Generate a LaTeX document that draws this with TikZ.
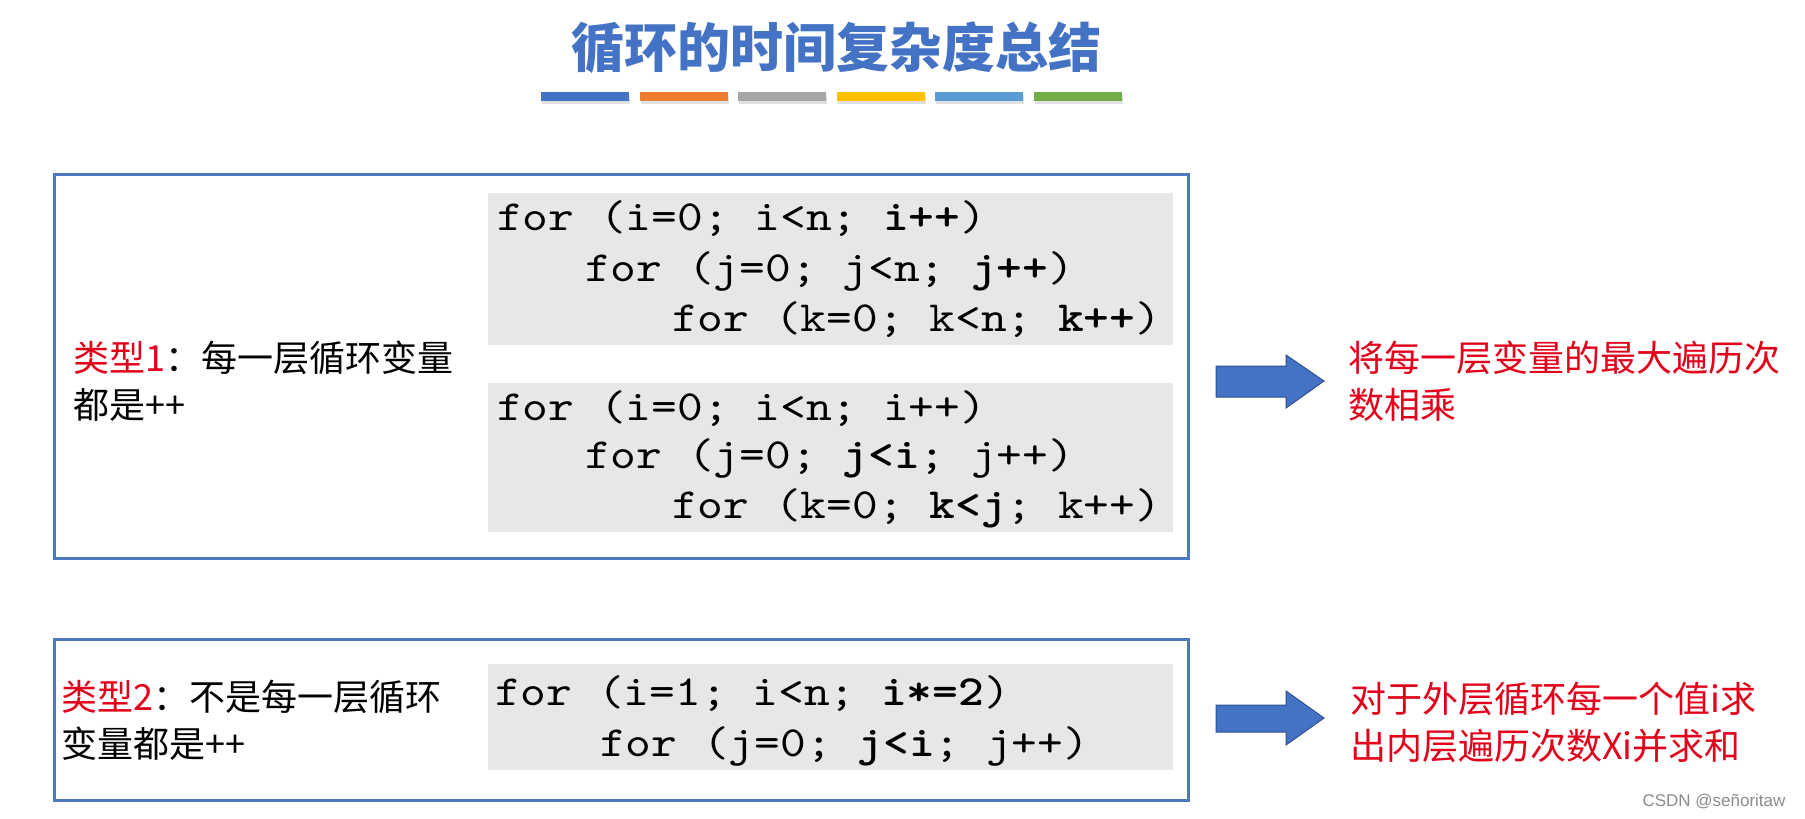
\documentclass[tikz,border=0pt]{standalone}
\usepackage{fontspec}
\newfontfamily\cjk{Noto Sans CJK SC}
\newfontfamily\codefont{lmmono10}[Extension=.otf, UprightFont=*-regular, BoldFont=lmmonolt10-bold, FakeStretch=1.14]
\newfontfamily\wmfont{Liberation Sans}
\usetikzlibrary{positioning}
\definecolor{titleblue}{RGB}{68,114,196}
\definecolor{frameblue}{RGB}{79,120,196}
\definecolor{codegray}{RGB}{231,231,231}
\definecolor{typered}{RGB}{226,0,26}
\definecolor{arrowfill}{RGB}{68,114,196}
\definecolor{arrowline}{RGB}{47,82,143}
\definecolor{barblue}{RGB}{68,114,196}
\definecolor{barorange}{RGB}{237,125,49}
\definecolor{bargray}{RGB}{165,165,165}
\definecolor{baryellow}{RGB}{255,192,0}
\definecolor{barlight}{RGB}{91,155,213}
\definecolor{bargreen}{RGB}{112,173,71}
\tikzset{
    frame/.style={draw=frameblue,line width=3},
    codebox/.style={fill=codegray},
    codeline/.style={anchor=west,inner sep=0pt,font=\codefont\fontsize{43}{52}\selectfont},
    typelabel/.style={anchor=west,align=left,inner sep=0pt,font=\cjk\fontsize{36}{47}\selectfont},
    result/.style={typelabel,text=typered},
    blockarrow/.style={fill=arrowfill,draw=arrowline,line width=1}
}

\begin{document}
\begin{tikzpicture}[x=1pt,y=-1pt]
\useasboundingbox[fill=white] (0,0) rectangle (1805,819);

% title and colour bars
\node[font=\cjk\bfseries\fontsize{53}{60}\selectfont,text=titleblue] (title) at (836,48) {循环的时间复杂度总结};
\foreach \c [count=\k] in {barblue,barorange,bargray,baryellow,barlight,bargreen}{
    \fill[black!12] ({542+98.5*(\k-1)},95) rectangle +(88,9);
    \fill[\c] ({541+98.5*(\k-1)},92) rectangle +(88,9);
}

% type 1
\draw[frame] (54,174) rectangle (1188,558);
\fill[codebox] (488,193) rectangle (1173,345);
\fill[codebox] (488,383) rectangle (1173,532);
\node[typelabel] (type1) at (73,381) {{\color{typered}类型1}：每一层循环变量\\都是++};
\node[codeline] (c11) at (497,219) {for (i=0; i<n; \textbf{i++})};
\node[codeline] (c12) at (585,271) {for (j=0; j<n; \textbf{j++})};
\node[codeline] (c13) at (672,320) {for (k=0; k<n; \textbf{k++})};
\node[codeline] (c21) at (497,409) {for (i=0; i<n; i++)};
\node[codeline] (c22) at (585,458) {for (j=0; \textbf{j<i}; j++)};
\node[codeline] (c23) at (672,508) {for (k=0; \textbf{k<j}; k++)};
\draw[blockarrow] (1216,366) -- (1286,366) -- (1286,355) -- (1324,381) -- (1286,408) -- (1286,397) -- (1216,397) -- cycle;
\node[result] (res1) at (1348,381) {将每一层变量的最大遍历次\\数相乘};

% type 2
\draw[frame] (54,639) rectangle (1188,800);
\fill[codebox] (488,664) rectangle (1173,770);
\node[typelabel] (type2) at (61,720) {{\color{typered}类型2}：不是每一层循环\\变量都是++};
\node[codeline] (c31) at (495,694) {for (i=1; i<n; \textbf{i*=2})};
\node[codeline] (c32) at (600,746) {for (j=0; \textbf{j<i}; j++)};
\draw[blockarrow] (1216,705) -- (1286,705) -- (1286,691) -- (1324,718) -- (1286,745) -- (1286,732) -- (1216,732) -- cycle;
\node[result] (res2) at (1350,722) {对于外层循环每一个值i求\\出内层遍历次数Xi并求和};

\node[font=\wmfont\fontsize{17}{20}\selectfont,text=black!45] (mark) at (1714,802) {CSDN @señoritaw};
\end{tikzpicture}
\end{document}
